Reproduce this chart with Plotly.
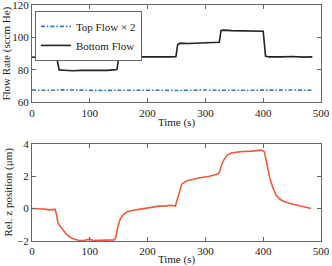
import plotly.graph_objects as go
from plotly.subplots import make_subplots

# Top panel: flow rates
t_bottom = [0, 10, 20, 30, 40, 43, 47, 55, 70, 85, 100, 115, 130, 140, 147, 150, 153, 165, 180, 200, 220, 240,
            249, 252, 256, 270, 290, 310, 324, 327, 332, 345, 360, 380, 395, 400, 404, 410, 430, 450, 470, 485]
bottom_flow = [87.8, 88.0, 87.9, 88.0, 88.2, 87.5, 80.0, 79.8, 79.5, 79.7, 79.6, 79.8, 79.7, 80.0, 80.2, 87.5, 88.0,
               88.0, 88.1, 87.9, 88.0, 88.0, 88.1, 95.5, 96.5, 96.3, 96.5, 96.6, 97.0, 104.3, 104.5, 104.2, 104.1,
               104.0, 104.0, 103.8, 88.5, 88.0, 88.0, 88.3, 87.9, 88.0]

t_top = [0, 25, 50, 75, 100, 125, 150, 175, 200, 225, 250, 275, 300, 325, 350, 375, 400, 425, 450, 475, 485]
top_flow_x2 = [67.6, 67.4, 67.7, 67.5, 67.6, 67.3, 67.5, 67.6, 67.4, 67.5, 67.3, 67.5, 67.6, 67.4, 67.5, 67.6,
               67.3, 67.5, 67.6, 67.4, 67.5]

# Bottom panel: relative z position
t_z = [0, 10, 20, 30, 35, 40, 42, 45, 50, 55, 60, 65, 70, 80, 90, 95, 100, 105, 115, 125, 135, 142, 145, 148, 152,
       157, 165, 175, 185, 200, 210, 220, 230, 240, 248, 251, 254, 259, 267, 276, 290, 305, 315, 322, 325, 328,
       332, 338, 345, 360, 380, 391, 397, 402, 406, 411, 416, 422, 428, 435, 445, 458, 470, 483]
z_pos = [0.0, 0.0, -0.03, -0.08, -0.05, -0.05, -0.3, -0.9, -1.15, -1.4, -1.6, -1.75, -1.85, -1.95, -1.97, -1.92,
         -1.88, -1.97, -1.95, -1.96, -1.95, -1.93, -1.8, -1.2, -0.7, -0.4, -0.2, -0.1, -0.05, 0.05, 0.1, 0.15, 0.15,
         0.2, 0.15, 0.5, 1.0, 1.5, 1.7, 1.79, 1.9, 1.98, 2.05, 2.12, 2.3, 2.7, 3.0, 3.3, 3.42, 3.5, 3.54, 3.58,
         3.6, 3.5, 2.8, 1.95, 1.35, 0.85, 0.6, 0.45, 0.33, 0.22, 0.12, 0.0]

# Tick values
x_ticks = [0, 100, 200, 300, 400, 500]
flow_ticks = [60, 80, 100, 120]
z_ticks = [-2, 0, 2, 4]

FONT = "Liberation Serif"
FS = 11

fig = make_subplots(rows=2, cols=1, vertical_spacing=0.175, row_heights=[0.5, 0.5])

fig.add_trace(go.Scatter(x=t_top, y=top_flow_x2, mode="lines", name="Top Flow × 2",
                         line=dict(color="#2a78d0", width=1.6, dash="4px,2px,1.5px,2px")), row=1, col=1)
fig.add_trace(go.Scatter(x=t_bottom, y=bottom_flow, mode="lines", name="Bottom Flow",
                         line=dict(color="#222222", width=1.6)), row=1, col=1)
fig.add_trace(go.Scatter(x=t_z, y=z_pos, mode="lines", showlegend=False,
                         line=dict(color="#f05a3c", width=1.6)), row=2, col=1)

axis_common = dict(showline=True, linecolor="#666666", linewidth=1, mirror="ticks", ticks="inside",
                   ticklen=4, tickcolor="#666666", showgrid=False, zeroline=False, automargin=False,
                   ticklabeloverflow="allow",
                   tickfont=dict(family=FONT, size=FS, color="#222222"))

fig.update_xaxes(range=[0, 500], tickmode="array", tickvals=x_ticks,
                 title=dict(text="Time (s)", standoff=0, font=dict(family=FONT, size=FS, color="#222222")),
                 **axis_common)
fig.update_yaxes(range=[60, 120], tickmode="array", tickvals=flow_ticks, row=1, col=1,
                 title=dict(text="Flow Rate (sccm He)", standoff=2, font=dict(family=FONT, size=FS, color="#222222")),
                 **axis_common)
fig.update_yaxes(range=[-2, 4], tickmode="array", tickvals=z_ticks, row=2, col=1,
                 title=dict(text="Rel. z position (μm)", standoff=2, font=dict(family=FONT, size=FS, color="#222222")),
                 **axis_common)

fig.update_layout(
    width=332, height=266,
    margin=dict(l=32, r=11, t=5, b=25, autoexpand=False),
    plot_bgcolor="white", paper_bgcolor="white",
    font=dict(family=FONT, size=FS, color="#222222"),
    legend=dict(x=0.01, y=0.975, xanchor="left", yanchor="top", bgcolor="white",
                bordercolor="#666666", borderwidth=1, font=dict(family=FONT, size=FS),
                tracegroupgap=0, itemwidth=30),
)

fig.write_html("out.html", config={"displayModeBar": False},
               post_script="document.body.style.margin='0';document.body.style.overflow='hidden';")
